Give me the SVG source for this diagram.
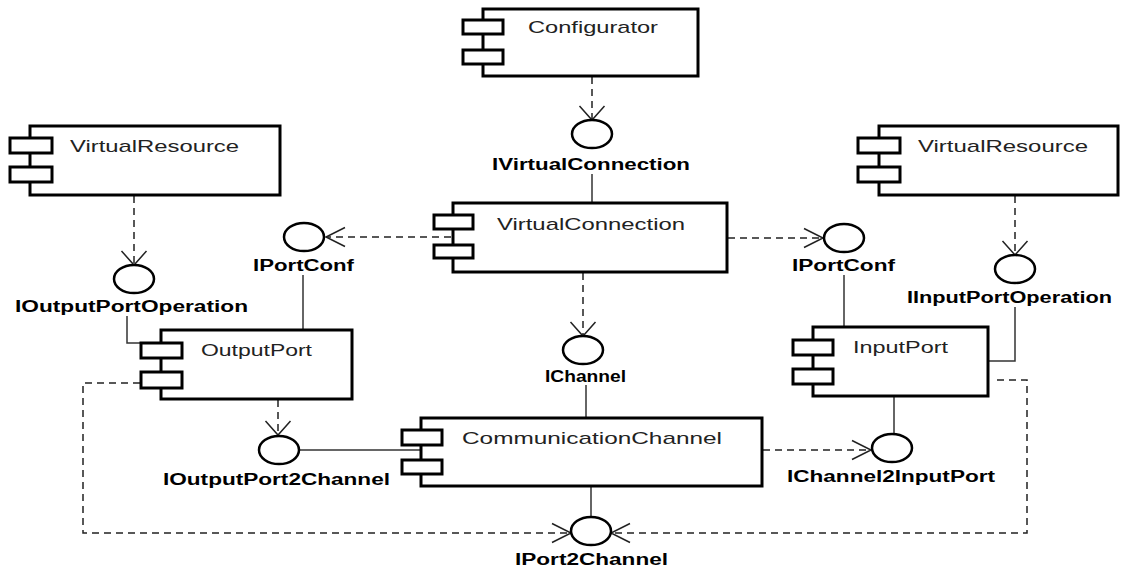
<svg xmlns="http://www.w3.org/2000/svg" width="1125" height="569" viewBox="0 0 1125 569">
  <style>
    .box { fill: #fff; stroke: #000; stroke-width: 3; }
    .name { font-family: "Liberation Sans", Arial, sans-serif; font-size: 17px; fill: #222; }
    .lbl { font-family: "Liberation Sans", Arial, sans-serif; font-size: 16px; font-weight: bold; fill: #000; }
    .iface { fill: #fff; stroke: #000; stroke-width: 2.5; }
    .solid { fill: none; stroke: #333; stroke-width: 1.5; }
    .dash { fill: none; stroke: #222; stroke-width: 1.5; stroke-dasharray: 7 5; }
  </style>
  <defs>
    <!-- open arrowheads; vertical and horizontal variants differ in proportion -->
    <marker id="av" markerUnits="userSpaceOnUse" orient="auto" viewBox="-20 -15 22 30" markerWidth="22" markerHeight="30" refX="0" refY="0">
      <path d="M -14 -12.5 L 0 0 L -14 12.5" fill="none" stroke="#222" stroke-width="1.5"/>
    </marker>
    <marker id="ah" markerUnits="userSpaceOnUse" orient="auto" viewBox="-21 -11 23 22" markerWidth="23" markerHeight="22" refX="0" refY="0">
      <path d="M -19 -9.5 L 0 0 L -19 9.5" fill="none" stroke="#222" stroke-width="1.5"/>
    </marker>
  </defs>
  <rect width="1125" height="569" fill="#fff"/>

  <!-- connectors -->
  <g id="connectors">
    <line class="dash" x1="592" y1="77" x2="592" y2="120" marker-end="url(#av)"/>
    <line class="solid" x1="592" y1="174" x2="592" y2="203"/>
    <line class="dash" x1="134" y1="196" x2="134" y2="265" marker-end="url(#av)"/>
    <polyline class="solid" points="127,316 127,343 141,343"/>
    <line class="dash" x1="1015" y1="196" x2="1015" y2="255" marker-end="url(#av)"/>
    <polyline class="solid" points="1015,307 1015,361 988,361"/>
    <line class="dash" x1="451" y1="237" x2="326" y2="237" marker-end="url(#ah)"/>
    <line class="dash" x1="728" y1="238" x2="823" y2="238" marker-end="url(#ah)"/>
    <line class="solid" x1="303" y1="275" x2="303" y2="330"/>
    <line class="solid" x1="844" y1="275" x2="844" y2="327"/>
    <line class="dash" x1="583" y1="273" x2="583" y2="336" marker-end="url(#av)"/>
    <line class="solid" x1="586" y1="385" x2="586" y2="418"/>
    <line class="dash" x1="278" y1="400" x2="278" y2="435" marker-end="url(#av)"/>
    <line class="solid" x1="299" y1="450" x2="421" y2="450"/>
    <line class="dash" x1="763" y1="450" x2="871" y2="450" marker-end="url(#ah)"/>
    <line class="solid" x1="894" y1="396" x2="894" y2="434"/>
    <line class="solid" x1="591" y1="486" x2="591" y2="517"/>
    <polyline class="dash" points="140,383 83,383 83,533 571,533" marker-end="url(#ah)"/>
    <polyline class="dash" points="997,380 1027,380 1027,533 611,533" marker-end="url(#ah)"/>
  </g>

  <!-- components -->
  <g id="configurator">
    <rect class="box" x="483" y="9" width="215" height="67"/>
    <rect class="box" x="463" y="20" width="40" height="14"/>
    <rect class="box" x="463" y="50" width="40" height="14"/>
    <text class="name" x="528" y="33" textLength="130" lengthAdjust="spacingAndGlyphs">Configurator</text>
  </g>
  <g id="virtual-resource-left">
    <rect class="box" x="30" y="126" width="250" height="69"/>
    <rect class="box" x="10" y="138" width="42" height="15"/>
    <rect class="box" x="10" y="167" width="42" height="15"/>
    <text class="name" x="70" y="152" textLength="169" lengthAdjust="spacingAndGlyphs">VirtualResource</text>
  </g>
  <g id="virtual-resource-right">
    <rect class="box" x="879" y="126" width="239" height="69"/>
    <rect class="box" x="858" y="138" width="42" height="15"/>
    <rect class="box" x="858" y="167" width="42" height="15"/>
    <text class="name" x="918" y="152" textLength="170" lengthAdjust="spacingAndGlyphs">VirtualResource</text>
  </g>
  <g id="virtual-connection">
    <rect class="box" x="453" y="203" width="274" height="69"/>
    <rect class="box" x="434" y="215" width="39" height="14"/>
    <rect class="box" x="434" y="245" width="39" height="13"/>
    <text class="name" x="497" y="230" textLength="188" lengthAdjust="spacingAndGlyphs">VirtualConnection</text>
  </g>
  <g id="output-port">
    <rect class="box" x="161" y="330" width="191" height="69"/>
    <rect class="box" x="141" y="343" width="41" height="15"/>
    <rect class="box" x="141" y="372" width="41" height="16"/>
    <text class="name" x="201" y="356" textLength="111" lengthAdjust="spacingAndGlyphs">OutputPort</text>
  </g>
  <g id="input-port">
    <rect class="box" x="813" y="327" width="175" height="69"/>
    <rect class="box" x="793" y="340" width="40" height="15"/>
    <rect class="box" x="793" y="369" width="40" height="15"/>
    <text class="name" x="853" y="353" textLength="95" lengthAdjust="spacingAndGlyphs">InputPort</text>
  </g>
  <g id="communication-channel">
    <rect class="box" x="421" y="418" width="341" height="68"/>
    <rect class="box" x="402" y="430" width="40" height="15"/>
    <rect class="box" x="402" y="460" width="40" height="14"/>
    <text class="name" x="462" y="444" textLength="260" lengthAdjust="spacingAndGlyphs">CommunicationChannel</text>
  </g>

  <!-- interfaces -->
  <g id="i-virtual-connection">
    <ellipse class="iface" cx="592" cy="134" rx="20" ry="14"/>
    <text class="lbl" x="492" y="170" textLength="198" lengthAdjust="spacingAndGlyphs">IVirtualConnection</text>
  </g>
  <g id="i-output-port-operation">
    <ellipse class="iface" cx="134" cy="279" rx="20" ry="14"/>
    <text class="lbl" x="15" y="312" textLength="233" lengthAdjust="spacingAndGlyphs">IOutputPortOperation</text>
  </g>
  <g id="i-input-port-operation">
    <ellipse class="iface" cx="1015" cy="269" rx="20" ry="14"/>
    <text class="lbl" x="907" y="303" textLength="205" lengthAdjust="spacingAndGlyphs">IInputPortOperation</text>
  </g>
  <g id="i-port-conf-left">
    <ellipse class="iface" cx="304" cy="237" rx="20" ry="14"/>
    <text class="lbl" x="253" y="271" textLength="101" lengthAdjust="spacingAndGlyphs">IPortConf</text>
  </g>
  <g id="i-port-conf-right">
    <ellipse class="iface" cx="844" cy="238" rx="20" ry="14"/>
    <text class="lbl" x="792" y="271" textLength="103" lengthAdjust="spacingAndGlyphs">IPortConf</text>
  </g>
  <g id="i-channel">
    <ellipse class="iface" cx="583" cy="350" rx="20" ry="14"/>
    <text class="lbl" x="545" y="382" textLength="81" lengthAdjust="spacingAndGlyphs">IChannel</text>
  </g>
  <g id="i-output-port2channel">
    <ellipse class="iface" cx="279" cy="450" rx="20" ry="14"/>
    <text class="lbl" x="163" y="485" textLength="227" lengthAdjust="spacingAndGlyphs">IOutputPort2Channel</text>
  </g>
  <g id="i-channel2input-port">
    <ellipse class="iface" cx="892" cy="448" rx="20" ry="14"/>
    <text class="lbl" x="787" y="482" textLength="208" lengthAdjust="spacingAndGlyphs">IChannel2InputPort</text>
  </g>
  <g id="i-port2channel">
    <ellipse class="iface" cx="591" cy="531" rx="20" ry="14"/>
    <text class="lbl" x="515" y="565" textLength="153" lengthAdjust="spacingAndGlyphs">IPort2Channel</text>
  </g>
</svg>
